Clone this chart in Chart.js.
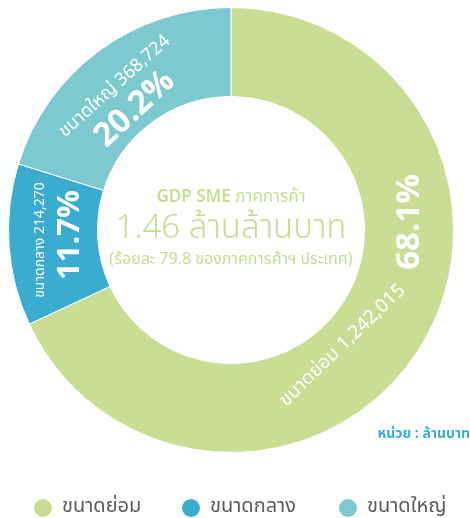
<!DOCTYPE html>
<html>
<head>
<meta charset="utf-8">
<script src="https://cdn.jsdelivr.net/npm/chart.js@4"></script>
<style>
  html, body { margin: 0; padding: 0; background: #fff; }
  #wrap { width: 470px; height: 518px; position: relative; }
</style>
</head>
<body>
<div id="wrap"><canvas id="sme"></canvas></div>
<script>
// ข้อมูล GDP SME ภาคการค้า แยกตามขนาด (ล้านบาท)
const labels = ['ขนาดย่อม', 'ขนาดกลาง', 'ขนาดใหญ่'];
const values = [1242015, 214270, 368724];
const colors = ['#c9dd95', '#3aaccf', '#7cc9d0'];
const centerTitle = ['GDP SME', 'ภาคการค้า'];
const centerLines = ['1.46 ล้านล้านบาท', '(ร้อยละ 79.8 ของภาคการค้าฯ ประเทศ)'];
const unitNote = 'หน่วย : ล้านบาท';

const FONT = "'Noto Sans Thai', 'Noto Sans', 'Liberation Sans', sans-serif";

// ตำแหน่งป้ายในแต่ละชิ้น: มุม (องศา ตามเข็มจากด้านบน), รัศมี (สัดส่วน), การหมุน
const pctPos = [
  { a: 87.4, r: 0.80, rot: -90, size: 33 },
  { a: 268.2, r: 0.73, rot: -90, size: 31 },
  { a: 321.5, r: 0.70, rot: -43, size: 33 },
];
const namePos = [
  { a: 136, r: 0.717, rot: -44, size: 19 },
  { a: 267, r: 0.862, rot: -90, size: 14 },
  { a: 321, r: 0.835, rot: -42, size: 18 },
];

const fmtNum = (v) => v.toLocaleString('en-US');

const labelPlugin = {
  id: 'smeLabels',
  afterDraw(chart) {
    const { ctx } = chart;
    const meta = chart.getDatasetMeta(0);
    const arc0 = meta.data[0];
    const cx = arc0.x, cy = arc0.y, R = arc0.outerRadius;
    const total = values.reduce((a, b) => a + b, 0);
    const at = (p) => {
      const t = p.a * Math.PI / 180;
      return [cx + p.r * R * Math.sin(t), cy - p.r * R * Math.cos(t)];
    };
    const put = (text, p, font) => {
      const [x, y] = at(p);
      ctx.save();
      ctx.translate(x, y);
      ctx.rotate(p.rot * Math.PI / 180);
      ctx.font = font;
      ctx.fillStyle = '#ffffff';
      ctx.textAlign = 'center';
      ctx.textBaseline = 'middle';
      ctx.fillText(text, 0, p.size * 0.12);
      ctx.restore();
    };

    values.forEach((v, i) => {
      put(((v / total) * 100).toFixed(1) + '%', pctPos[i], `bold ${pctPos[i].size}px ${FONT}`);
      put(labels[i] + ' ' + fmtNum(v), namePos[i], `${namePos[i].size}px ${FONT}`);
    });

    // ข้อความกลางวง
    ctx.save();
    ctx.textBaseline = 'middle';
    ctx.fillStyle = '#c8dc94';
    const f1 = `600 17px ${FONT}`, f2 = `17px ${FONT}`;
    ctx.font = f1;
    const w1 = ctx.measureText(centerTitle[0] + ' ').width;
    ctx.font = f2;
    const w2 = ctx.measureText(centerTitle[1]).width;
    const x0 = cx - (w1 + w2) / 2;
    ctx.textAlign = 'left';
    ctx.font = f1;
    ctx.fillText(centerTitle[0], x0, cy - 31);
    ctx.font = f2;
    ctx.fillText(centerTitle[1], x0 + w1, cy - 31);
    ctx.textAlign = 'center';
    ctx.font = `300 33px ${FONT}`;
    ctx.fillText(centerLines[0], cx, cy + 1);
    ctx.font = `16px ${FONT}`;
    ctx.fillText(centerLines[1], cx, cy + 31);
    ctx.restore();

    // หน่วย
    ctx.save();
    ctx.font = `bold 14px ${FONT}`;
    ctx.fillStyle = '#3aaed0';
    ctx.textAlign = 'right';
    ctx.textBaseline = 'middle';
    ctx.fillText(unitNote, 470, 435);
    ctx.restore();

    // คำอธิบายสัญลักษณ์
    const legendX = [43, 191, 348];
    ctx.save();
    ctx.font = `20px ${FONT}`;
    ctx.textBaseline = 'middle';
    ctx.textAlign = 'left';
    labels.forEach((lab, i) => {
      ctx.beginPath();
      ctx.arc(legendX[i], 508, 9, 0, Math.PI * 2);
      ctx.fillStyle = colors[i];
      ctx.fill();
      ctx.fillStyle = '#5a5a5a';
      ctx.fillText(lab, legendX[i] + 19, 508);
    });
    ctx.restore();
  },
};

new Chart(document.getElementById('sme'), {
  type: 'doughnut',
  data: {
    labels,
    datasets: [{
      data: values,
      backgroundColor: colors,
      borderColor: '#ffffff',
      borderWidth: 1,
    }],
  },
  options: {
    responsive: true, maintainAspectRatio: false,
    animation: false,
    cutout: '60%',
    layout: { padding: { left: 8, right: 16, top: 7, bottom: 65 } },
    plugins: { legend: { display: false }, tooltip: { enabled: false } },
  },
  plugins: [labelPlugin],
});
</script>
</body>
</html>
